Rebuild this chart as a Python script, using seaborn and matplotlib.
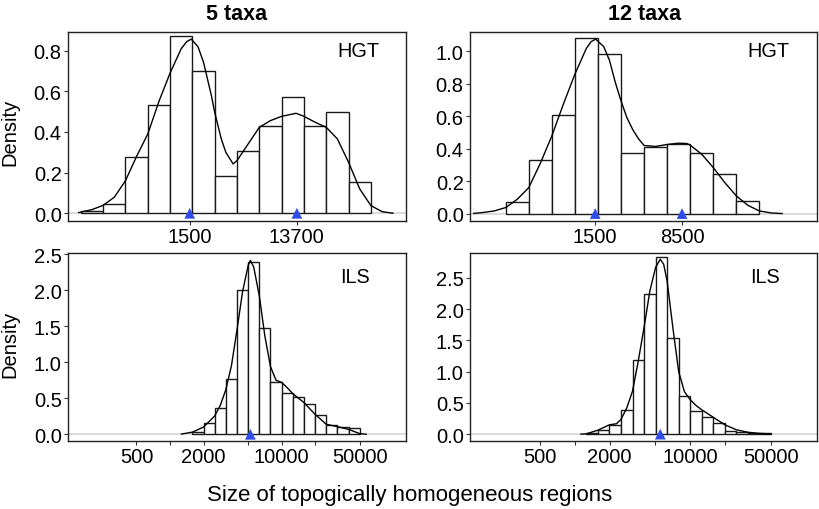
import numpy as np
import seaborn as sns
import matplotlib.pyplot as plt
from matplotlib.ticker import NullLocator

edges_5_hgt = [2.2, 2.4, 2.6, 2.8, 3.0, 3.2, 3.4, 3.6, 3.8, 4.0, 4.2, 4.4, 4.6, 4.8]
dens_5_hgt = [0.011, 0.047, 0.275, 0.534, 0.870, 0.698, 0.181, 0.305, 0.430, 0.574, 0.430, 0.497, 0.152]

edges_12_hgt = [2.4, 2.6, 2.8, 3.0, 3.2, 3.4, 3.6, 3.8, 4.0, 4.2, 4.4, 4.6]
dens_12_hgt = [0.072, 0.330, 0.609, 1.082, 0.984, 0.375, 0.412, 0.430, 0.375, 0.246, 0.076]

edges_5_ils = [3.2, 3.3, 3.4, 3.5, 3.6, 3.7, 3.8, 3.9, 4.0, 4.1, 4.2, 4.3, 4.4, 4.5, 4.6, 4.7]
dens_5_ils = [0.035, 0.162, 0.368, 0.765, 2.003, 2.397, 1.480, 0.728, 0.570, 0.516, 0.415, 0.261,
              0.128, 0.097, 0.081]

edges_12_ils = [3.1, 3.2, 3.3, 3.4, 3.5, 3.6, 3.7, 3.8, 3.9, 4.0, 4.1, 4.2, 4.3, 4.4, 4.5, 4.6, 4.7]
dens_12_ils = [0.016, 0.066, 0.145, 0.388, 1.190, 2.250, 2.842, 1.533, 0.617, 0.375, 0.278, 0.185,
               0.050, 0.034, 0.016, 0.016]

# density curves (log10 size, density)
kde_5_hgt_x = [2.18, 2.2, 2.3, 2.4, 2.5, 2.6, 2.7, 2.8, 2.9, 3.0, 3.1, 3.15, 3.19, 3.25, 3.3, 3.37,
               3.4, 3.46, 3.5, 3.565, 3.6, 3.7, 3.8, 3.9, 4.0, 4.13, 4.2, 4.3, 4.4, 4.5, 4.6,
               4.7, 4.8, 4.9, 5.0]
kde_5_hgt_y = [0.003, 0.006, 0.018, 0.039, 0.079, 0.16, 0.28, 0.39, 0.55, 0.69, 0.81, 0.845, 0.857,
               0.82, 0.743, 0.58, 0.497, 0.364, 0.30, 0.243, 0.259, 0.341, 0.423, 0.456, 0.477,
               0.492, 0.477, 0.448, 0.423, 0.366, 0.251, 0.12, 0.038, 0.008, 0.0]

kde_12_hgt_x = [2.12, 2.2, 2.3, 2.4, 2.5, 2.6, 2.7, 2.8, 2.9, 3.0, 3.1, 3.14, 3.18, 3.25, 3.3, 3.35,
                3.4, 3.45, 3.5, 3.55, 3.6, 3.7, 3.8, 3.9, 3.97, 4.0, 4.1, 4.2, 4.3, 4.4, 4.5,
                4.6, 4.7, 4.8]
kde_12_hgt_y = [0.001, 0.006, 0.016, 0.037, 0.088, 0.16, 0.31, 0.479, 0.675, 0.86, 1.02, 1.06, 1.076,
                1.03, 0.945, 0.81, 0.695, 0.593, 0.52, 0.463, 0.42, 0.414, 0.426, 0.434, 0.432,
                0.422, 0.366, 0.284, 0.191, 0.109, 0.051, 0.016, 0.004, 0.0]

kde_5_ils_x = [3.1, 3.2, 3.3, 3.4, 3.45, 3.5, 3.55, 3.6, 3.65, 3.7, 3.72, 3.75, 3.8, 3.85, 3.9, 3.95,
               4.0, 4.05, 4.1, 4.2, 4.3, 4.4, 4.5, 4.6, 4.7, 4.76]
kde_5_ils_y = [0.003, 0.03, 0.10, 0.254, 0.40, 0.62, 0.95, 1.45, 1.98, 2.34, 2.413, 2.32, 1.92, 1.36,
               0.94, 0.75, 0.72, 0.647, 0.564, 0.44, 0.277, 0.139, 0.106, 0.069, 0.009, 0.0]

kde_12_ils_x = [3.05, 3.1, 3.2, 3.3, 3.36, 3.4, 3.45, 3.5, 3.55, 3.6, 3.65, 3.7, 3.74, 3.77, 3.8,
                3.85, 3.9, 3.95, 4.0, 4.05, 4.1, 4.2, 4.3, 4.4, 4.5, 4.6, 4.7]
kde_12_ils_y = [0.0, 0.005, 0.064, 0.150, 0.166, 0.235, 0.42, 0.69, 1.175, 1.71, 2.29, 2.67, 2.80,
                2.72, 2.45, 1.70, 1.0, 0.68, 0.55, 0.46, 0.39, 0.27, 0.15, 0.07, 0.03, 0.012, 0.004]

# blue triangles on the baseline
marks_5_hgt = [1500, 13700]
marks_12_hgt = [1500, 8500]
marks_5_ils = [5250]
marks_12_ils = [5500]

bottom_ticks = [500, 1000, 2000, 5000, 10000, 20000, 50000]
bottom_labels = ['500', '', '2000', '', '10000', '', '50000']

sns.set_style('ticks')
plt.rcParams['font.family'] = ['Liberation Sans', 'DejaVu Sans']
plt.rcParams['text.color'] = 'black'
plt.rcParams['axes.labelcolor'] = 'black'

fig = plt.figure(figsize=(8.2, 5.1), dpi=100)
W, H = 820, 510


def make_ax(left, top, right, bottom):
    return fig.add_axes([left / W, (H - bottom) / H, (right - left) / W, (bottom - top) / H])


panels = [
    # axes box px, edges, dens, kde x, kde y, marks, ylim, yticks, xlim(log10), label
    ((68, 33, 406, 222), edges_5_hgt, dens_5_hgt, kde_5_hgt_x, kde_5_hgt_y, marks_5_hgt,
     (-0.038, 0.892), [0.0, 0.2, 0.4, 0.6, 0.8], (2.085, 5.115), 'HGT'),
    ((470, 33, 817, 222), edges_12_hgt, dens_12_hgt, kde_12_hgt_x, kde_12_hgt_y, marks_12_hgt,
     (-0.046, 1.12), [0.0, 0.2, 0.4, 0.6, 0.8, 1.0], (2.09, 5.10), 'HGT'),
    ((68, 254, 406, 442), edges_5_ils, dens_5_ils, kde_5_ils_x, kde_5_ils_y, marks_5_ils,
     (-0.093, 2.515), [0.0, 0.5, 1.0, 1.5, 2.0, 2.5], (2.085, 5.115), 'ILS'),
    ((470, 254, 817, 442), edges_12_ils, dens_12_ils, kde_12_ils_x, kde_12_ils_y, marks_12_ils,
     (-0.11, 2.90), [0.0, 0.5, 1.0, 1.5, 2.0, 2.5], (2.09, 5.10), 'ILS'),
]

for i, (box, edges, dens, kx, ky, marks, ylim, yticks, xlim, label) in enumerate(panels):
    ax = make_ax(*box)
    centers = (np.array(edges[:-1]) + np.array(edges[1:])) / 2
    ax.axhline(0, color='#d4d4d4', lw=1.2, zorder=0.5)
    sns.histplot(x=10 ** centers, weights=dens, bins=edges, log_scale=True, stat='count',
                 fill=True, color='white', edgecolor='#1a1a1a', linewidth=1.0, alpha=1, ax=ax)
    sns.lineplot(x=10 ** np.array(kx), y=ky, color='black', lw=1.0, estimator=None, ax=ax, zorder=3)
    sns.scatterplot(x=marks, y=[0] * len(marks), marker='^', s=60, color='#2f4ce6',
                    edgecolor='none', ax=ax, zorder=5, clip_on=False)
    ax.set_xlim(10 ** xlim[0], 10 ** xlim[1])
    ax.set_ylim(*ylim)
    ax.set_yticks(yticks)
    ax.set_yticklabels([f'{v:.1f}' for v in yticks])
    ax.xaxis.set_minor_locator(NullLocator())
    if i < 2:
        ax.set_xticks(marks)
        ax.set_xticklabels([str(m) for m in marks])
    else:
        ax.set_xticks(bottom_ticks)
        ax.set_xticklabels(bottom_labels)
    ax.set_xlabel('')
    ax.set_ylabel('')
    ax.tick_params(axis='both', direction='out', length=3, width=0.8, color='#333333',
                   labelsize=14.5, pad=1.5, labelcolor='black')
    for s in ax.spines.values():
        s.set_visible(True)
        s.set_color('#222222')
        s.set_linewidth(1.0)
    ax.text(0.86 if label == 'HGT' else 0.85, 0.90 if label == 'HGT' else 0.875, label,
            transform=ax.transAxes, ha='center', va='center', fontsize=14.3)

fig.text(237 / W, (H - 14) / H, '5 taxa', ha='center', va='center', fontsize=15.5, fontweight='bold')
fig.text(645 / W, (H - 14) / H, '12 taxa', ha='center', va='center', fontsize=15.5, fontweight='bold')
fig.text(10 / W, (H - 132) / H, 'Density', rotation=90, ha='center', va='center', fontsize=14.5)
fig.text(10 / W, (H - 344) / H, 'Density', rotation=90, ha='center', va='center', fontsize=14.5)
fig.text(410 / W, (H - 496) / H, 'Size of topogically homogeneous regions', ha='center', va='center',
         fontsize=16)

fig.savefig('out.png', dpi=100)
